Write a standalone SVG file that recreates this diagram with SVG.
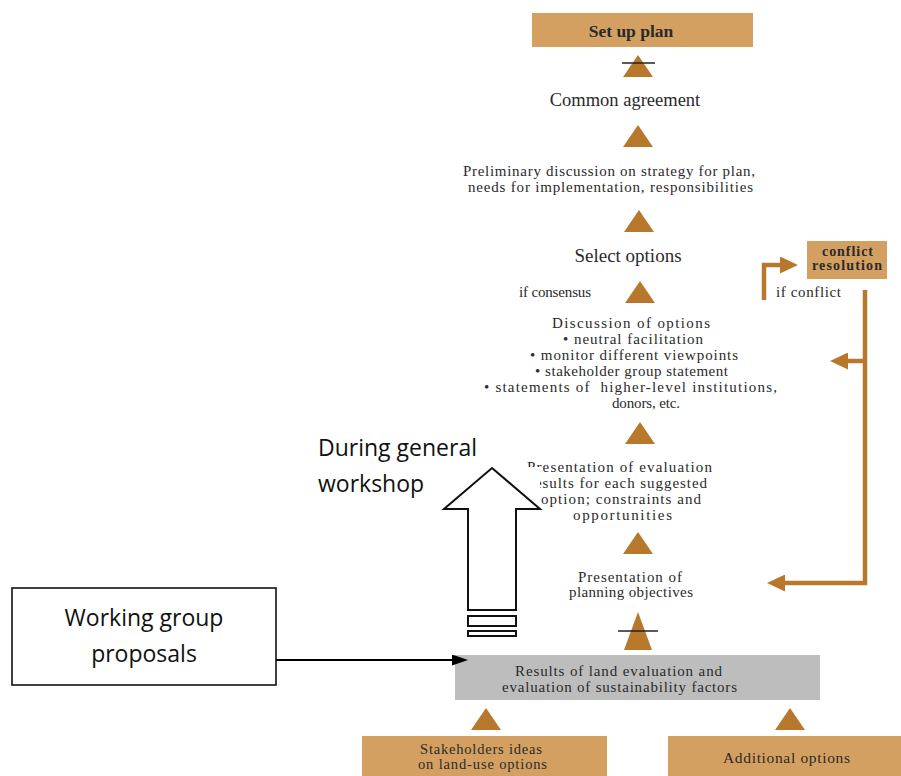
<svg xmlns="http://www.w3.org/2000/svg" xmlns:xlink="http://www.w3.org/1999/xlink" width="901" height="776" viewBox="0 0 901 776">
<style>
.box{fill:#d4a062;}
.grey{fill:#bdbdbd;}
.t{font-family:"Liberation Serif","Times New Roman",serif;fill:#2a2a2a;font-size:15px;}
.m{text-anchor:middle;}
.b{font-weight:bold;}
.s{font-family:"Open Sans","Noto Sans",sans-serif;fill:#111;font-size:23px;}
.tri{fill:#b8782c;}
.bar{stroke:#222;stroke-width:1.6;}
.ol{fill:none;stroke:#b8782c;stroke-width:4.5;}
.hol{fill:#fff;stroke:#111;stroke-width:2;}
</style>
<defs>
<polygon id="tri" class="tri" points="-15,0 0,-22 15,0"/>
<marker id="oa" viewBox="0 0 18 17" markerWidth="18" markerHeight="17" refX="2" refY="8.5" orient="auto" markerUnits="userSpaceOnUse">
<path d="M0,0 L18,8.5 L0,17 z" fill="#b8782c"/>
</marker>
<marker id="ba" viewBox="0 0 16 11" markerWidth="16" markerHeight="11" refX="2" refY="5.5" orient="auto" markerUnits="userSpaceOnUse">
<path d="M0,0 L16,5.5 L0,11 z" fill="#000"/>
</marker>
</defs>
<rect width="901" height="776" fill="#fff"/>

<g id="n-setup">
<rect class="box" x="532" y="13" width="221" height="34"/>
<text class="t m b" x="631" y="37" style="font-size:17.5px">Set up plan</text>
</g>
<g id="n-common">
<text class="t m" x="625" y="106" style="font-size:18.5px">Common agreement</text>
</g>
<g id="n-prelim">
<text class="t" x="463" y="176" textLength="292" lengthAdjust="spacing">Preliminary discussion on strategy for plan,</text>
<text class="t" x="468" y="192" textLength="285" lengthAdjust="spacing">needs for implementation, responsibilities</text>
</g>
<g id="n-select">
<text class="t m" x="628" y="262" style="font-size:19px">Select options</text>
</g>
<g id="n-conflict">
<rect class="box" x="807" y="241" width="80" height="38"/>
<text class="t b" x="822" y="256" style="font-size:14px" textLength="51" lengthAdjust="spacing">conflict</text>
<text class="t b" x="812" y="270" style="font-size:14px" textLength="70" lengthAdjust="spacing">resolution</text>
</g>
<g id="n-discussion">
<text class="t" x="552" y="328" textLength="158" lengthAdjust="spacing">Discussion of options</text>
<text class="t" x="563" y="344" textLength="140" lengthAdjust="spacing">• neutral facilitation</text>
<text class="t" x="530" y="360" textLength="208" lengthAdjust="spacing">• monitor different viewpoints</text>
<text class="t" x="535" y="376" textLength="193" lengthAdjust="spacing">• stakeholder group statement</text>
<text class="t" x="484" y="392" textLength="293" lengthAdjust="spacing" xml:space="preserve">• statements of  higher-level institutions,</text>
<text class="t" x="612" y="408" textLength="68" lengthAdjust="spacing">donors, etc.</text>
</g>
<g id="n-evaluation">
<text class="t" x="527" y="472" textLength="185" lengthAdjust="spacing">Presentation of evaluation</text>
<text class="t" x="529" y="488" textLength="178" lengthAdjust="spacing">results for each suggested</text>
<text class="t" x="541" y="504" textLength="160" lengthAdjust="spacing">option; constraints and</text>
<text class="t" x="573" y="520" textLength="99" lengthAdjust="spacing">opportunities</text>
</g>
<g id="n-objectives">
<text class="t" x="578" y="582" textLength="104" lengthAdjust="spacing">Presentation of</text>
<text class="t" x="569" y="597" textLength="124" lengthAdjust="spacing">planning objectives</text>
</g>
<g id="n-results">
<rect class="grey" x="455" y="655" width="365" height="45"/>
<text class="t" x="515" y="676" textLength="207" lengthAdjust="spacing">Results of land evaluation and</text>
<text class="t" x="502" y="692" textLength="235" lengthAdjust="spacing">evaluation of sustainability factors</text>
</g>
<g id="n-stakeholders">
<rect class="box" x="362" y="736" width="245" height="40"/>
<text class="t" x="420" y="754" style="font-size:14.5px" textLength="122" lengthAdjust="spacing">Stakeholders ideas</text>
<text class="t" x="418" y="769" style="font-size:14.5px" textLength="129" lengthAdjust="spacing">on land-use options</text>
</g>
<g id="n-additional">
<rect class="box" x="668" y="736" width="233" height="40"/>
<text class="t" x="723" y="763" style="font-size:15.5px" textLength="127" lengthAdjust="spacing">Additional options</text>
</g>
<g id="n-working">
<rect x="12" y="588" width="264" height="97" fill="#fff" stroke="#111" stroke-width="1.6"/>
<text class="s" x="144" y="626" text-anchor="middle">Working group</text>
<text class="s" x="144" y="662" text-anchor="middle">proposals</text>
</g>
<g id="n-workshop">
<text class="s" x="318" y="456">During general</text>
<text class="s" x="318" y="492">workshop</text>
<rect x="441" y="467" width="99" height="172" fill="#fff"/>
<polygon class="hol" points="492,468 540,509 516,509 516,610 468,610 468,509 444,509"/>
<rect class="hol" x="468" y="616" width="48" height="10"/>
<rect class="hol" x="468" y="631" width="48" height="5"/>
</g>

<g id="connectors">
<use xlink:href="#tri" x="638" y="77"/>
<line class="bar" x1="622" y1="63" x2="655" y2="63"/>
<use xlink:href="#tri" x="638" y="147"/>
<use xlink:href="#tri" x="639" y="232"/>
<use xlink:href="#tri" x="640" y="303"/>
<use xlink:href="#tri" x="640" y="444"/>
<use xlink:href="#tri" x="638" y="554"/>
<polygon class="tri" points="624,650 638,612 652,650"/>
<line class="bar" x1="618" y1="631" x2="658" y2="631"/>
<use xlink:href="#tri" x="486" y="730"/>
<use xlink:href="#tri" x="790" y="730"/>
<text class="t" x="519" y="297" textLength="72" lengthAdjust="spacing">if consensus</text>
<text class="t" x="776" y="297" textLength="65" lengthAdjust="spacing">if conflict</text>
<path class="ol" d="M764,300 V265 H782" marker-end="url(#oa)"/>
<path class="ol" d="M865,290 V583 H783" marker-end="url(#oa)"/>
<path class="ol" d="M865,361 H846" marker-end="url(#oa)"/>
<line x1="276" y1="660" x2="454" y2="660" stroke="#000" stroke-width="2" marker-end="url(#ba)"/>
</g>
</svg>
